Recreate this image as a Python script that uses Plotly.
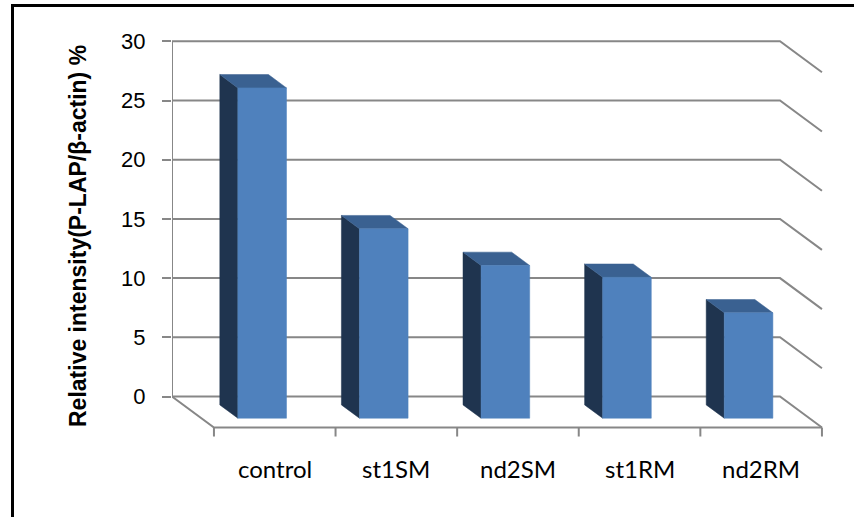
import plotly.graph_objects as go

# ---- data ----
categories = ["control", "st1SM", "nd2SM", "st1RM", "nd2RM"]
values = [27.9, 16.0, 12.9, 11.9, 8.9]
y_ticks = [0, 5, 10, 15, 20, 25, 30]
y_title = "Relative intensity(P-LAP/β-actin) %"

# ---- oblique 3-D look ----
DEPTH_X = 0.345          # full floor depth, in category units (toward the viewer = right)
DEPTH_Y = 2.62           # full floor depth, in value units (toward the viewer = down)
BAR_W = 0.40             # bar width as a fraction of a category slot
BAR_F0, BAR_F1 = 0.27, 0.70   # back / front of each bar as a fraction of the floor depth

FRONT = "#4F81BD"
SIDE = "#1F344F"
TOP = "#3A6191"
GRID = "#878787"

n = len(categories)
x_lo, x_hi = -0.5, n - 0.5
y_max = max(y_ticks)


def shift(x, y, f):
    """Move a back-wall point f of the way toward the front of the floor."""
    return x + f * DEPTH_X, y - f * DEPTH_Y


def line(fig, xs, ys, width=2):
    fig.add_trace(go.Scatter(x=xs, y=ys, mode="lines", line=dict(color=GRID, width=width),
                             hoverinfo="skip", showlegend=False, cliponaxis=False))


def poly(fig, pts, color):
    xs = [p[0] for p in pts] + [pts[0][0]]
    ys = [p[1] for p in pts] + [pts[0][1]]
    fig.add_trace(go.Scatter(x=xs, y=ys, mode="lines", fill="toself", fillcolor=color,
                             line=dict(color=color, width=0.5), hoverinfo="skip",
                             showlegend=False))


fig = go.Figure()

# back-wall gridlines running onto the right side wall
for t in y_ticks:
    fx, fy = shift(x_hi, t, 1.0)
    line(fig, [x_lo, x_hi, fx], [t, t, fy])

# left edge of the back wall
line(fig, [x_lo, x_lo], [0, y_max])

# floor: left edge and front edge
lx, ly = shift(x_lo, 0, 1.0)
rx, ry = shift(x_hi, 0, 1.0)
line(fig, [x_lo, lx, rx], [0, ly, ry])

# category tick marks under the front edge of the floor
tick_drop = 9 / 11.84
for k in range(n + 1):
    tx, ty = shift(x_lo + k, 0, 1.0)
    line(fig, [tx, tx], [ty, ty - tick_drop])

# bars: dark left side, top, then the front face
for i, v in enumerate(values):
    xl, xr = i - BAR_W / 2, i + BAR_W / 2
    side = [shift(xl, 0, BAR_F0), shift(xl, 0, BAR_F1), shift(xl, v, BAR_F1), shift(xl, v, BAR_F0)]
    top = [shift(xl, v, BAR_F0), shift(xr, v, BAR_F0), shift(xr, v, BAR_F1), shift(xl, v, BAR_F1)]
    front = [shift(xl, 0, BAR_F1), shift(xr, 0, BAR_F1), shift(xr, v, BAR_F1), shift(xl, v, BAR_F1)]
    poly(fig, side, SIDE)
    poly(fig, top, TOP)
    poly(fig, front, FRONT)

# category labels centred under the front of each slot
W, H = 854, 517
ML, MR, MT, MB = 172, 22, 30, 40
plot_h = H - MT - MB
plot_w = W - ML - MR
for i, c in enumerate(categories):
    fig.add_annotation(x=i + DEPTH_X, y=(H - MB - 468) / plot_h, xref="x", yref="paper",
                       xanchor="center", yanchor="middle",
                       text=c, showarrow=False,
                       font=dict(family="Lato", size=24, color="#000000"))

# value-axis title
fig.add_annotation(x=(78 - ML) / plot_w, y=(H - MB - 236) / plot_h, xref="paper", yref="paper",
                   xanchor="center", yanchor="middle",
                   text="<b>" + y_title + "</b>", textangle=-90, showarrow=False,
                   font=dict(family="Liberation Sans", size=23, color="#000000"))

# chart frame
fig.add_shape(type="rect", xref="paper", yref="paper",
              x0=(12.5 - ML) / plot_w, x1=(870 - ML) / plot_w,
              y0=(H - MB - 530) / plot_h, y1=(H - MB - 5.5) / plot_h,
              line=dict(color="#000000", width=3), fillcolor="rgba(0,0,0,0)", layer="above")

px_per_unit = 11.84
y_zero_px = 396.5
y_top = (y_zero_px - MT) / px_per_unit
y_bottom = -(H - MB - y_zero_px) / px_per_unit
px_per_cat = 121.6
x_right = x_lo + plot_w / px_per_cat

fig.update_layout(
    width=W, height=H, autosize=False,
    margin=dict(l=ML, r=MR, t=MT, b=MB),
    paper_bgcolor="white", plot_bgcolor="white",
    showlegend=False,
    xaxis=dict(range=[x_lo, x_right], visible=False, fixedrange=True),
    yaxis=dict(range=[y_bottom, y_top], tickvals=y_ticks, ticktext=[str(t) for t in y_ticks],
               showgrid=False, zeroline=False, showline=False,
               ticks="outside", ticklen=9, tickwidth=2, tickcolor=GRID,
               ticklabelstandoff=12,
               tickfont=dict(family="Liberation Sans", size=22, color="#000000"),
               fixedrange=True),
)

fig.write_html("out.html")
